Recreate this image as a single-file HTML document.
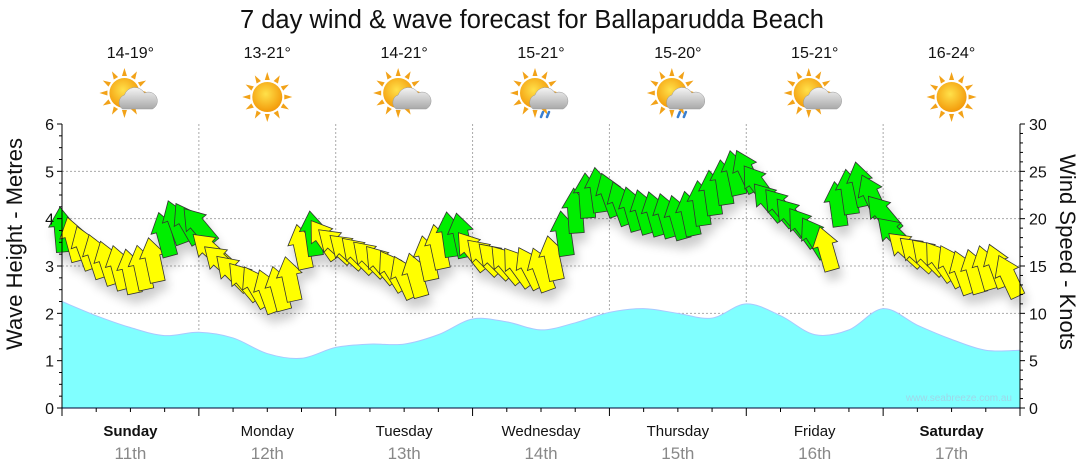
<!DOCTYPE html>
<html><head><meta charset="utf-8">
<style>
html,body{margin:0;padding:0;background:#fff;}
svg{display:block;font-family:"Liberation Sans",Arial,sans-serif;}
</style></head>
<body>
<svg id="chart" width="1080" height="475" viewBox="0 0 1080 475">
<defs>
<filter id="sh" x="-50%" y="-50%" width="200%" height="200%"><feGaussianBlur in="SourceAlpha" stdDeviation="5"/><feOffset dx="3" dy="9"/><feComponentTransfer><feFuncA type="linear" slope="0.2"/></feComponentTransfer><feMerge><feMergeNode/><feMergeNode in="SourceGraphic"/></feMerge></filter>
<radialGradient id="sun" cx="45%" cy="40%" r="60%"><stop offset="0" stop-color="#ffe14a"/><stop offset="1" stop-color="#f39a0a"/></radialGradient>
<linearGradient id="cloud" x1="0" y1="0" x2="0" y2="1"><stop offset="0" stop-color="#f4f4f4"/><stop offset="1" stop-color="#a9a9a9"/></linearGradient>
</defs>
<text x="532" y="28" text-anchor="middle" font-size="25.5" fill="#111">7 day wind &amp; wave forecast for Ballaparudda Beach</text>
<g id="grid"></g>
<g id="wave"></g>
<g id="wind" filter="url(#sh)"></g>
<g id="axes"></g>
<g id="wx"></g>
<text x="1012" y="401" text-anchor="end" font-size="10" fill="#9fd7e8">www.seabreeze.com.au</text>
<text transform="translate(22,244) rotate(-90)" text-anchor="middle" font-size="22" fill="#111">Wave Height - Metres</text>
<text transform="translate(1060,252) rotate(90)" text-anchor="middle" font-size="22" fill="#111">Wind Speed - Knots</text>
</svg>
<script>
const days = ["Sunday","Monday","Tuesday","Wednesday","Thursday","Friday","Saturday"];
const dates = ["11th","12th","13th","14th","15th","16th","17th"];
const temps = ["14-19°","13-21°","14-21°","15-21°","15-20°","15-21°","16-24°"];
const icons = ["cloudsun","sun","cloudsun","rain","rain","cloudsun","sun"];
const leftTicks = [0,1,2,3,4,5,6];
const rightTicks = [0,5,10,15,20,25,30];
// wave height, metres, every 6 hours
const waveHeights = [2.25,1.95,1.7,1.53,1.6,1.48,1.15,1.05,1.28,1.35,1.35,1.55,1.88,1.82,1.65,1.8,2.02,2.1,2.0,1.9,2.2,1.95,1.55,1.65,2.1,1.75,1.45,1.22,1.22];
// wind speed, knots, every 2 hours
const windSpeeds = [18.8,17.8,16.9,16.0,15.3,14.8,14.4,14.8,15.6,18.3,19.6,19.5,
19.2,16.7,15.4,14.3,13.4,12.8,12.3,12.6,13.6,17.0,18.4,17.8,
17.2,16.6,16.2,15.8,15.2,14.5,13.8,14.0,15.8,17.0,18.3,18.2,
16.6,16.0,15.6,15.2,14.9,14.8,14.6,15.8,18.4,20.8,22.4,23.0,
22.5,21.6,21.0,20.7,20.5,20.3,20.1,20.5,21.6,22.7,23.8,24.8,
25.0,23.6,21.8,21.2,20.2,19.1,18.0,16.8,21.5,22.8,23.6,22.4,
20.5,18.3,16.8,16.3,16.0,15.5,15.0,14.3,14.4,14.8,15.0,13.9];
// arrow heading, degrees from up
const windDirs = [-5,-15,-20,-18,-18,-15,-12,-12,-12,-15,-20,-30,
-40,-48,-48,-45,-40,-30,-20,-15,-12,-12,-8,-35,
-48,-48,-45,-45,-40,-32,-25,-16,-12,-12,-8,-12,
-38,-45,-45,-40,-36,-28,-20,-12,-8,-4,-4,-8,
-20,-20,-16,-16,-16,-16,-16,-12,-8,-8,-8,-12,
-25,-36,-40,-40,-40,-36,-32,-16,-8,-8,-12,-25,
-40,-45,-48,-48,-45,-36,-28,-20,-16,-16,-20,-25];

const NS="http://www.w3.org/2000/svg";
const X0=62,X1=1020,Y0=408,Y1=124;
const dayW=(X1-X0)/7;
const xH=h=>X0+h/168*(X1-X0);
const yM=m=>Y0-m/6*(Y0-Y1);
const yK=k=>Y0-k/30*(Y0-Y1);
function el(tag,attrs,parent){const e=document.createElementNS(NS,tag);for(const k in attrs)e.setAttribute(k,attrs[k]);parent.appendChild(e);return e;}
const grid=document.getElementById('grid'),axes=document.getElementById('axes'),wave=document.getElementById('wave'),wind=document.getElementById('wind'),wx=document.getElementById('wx');

leftTicks.forEach(t=>{if(t>0&&t<6){const l=el('line',{x1:X0,x2:X1,y1:yM(t),y2:yM(t),stroke:'#aaa','stroke-dasharray':'2,2'},grid);

}});
for(let d=1;d<7;d++){const l=el('line',{x1:X0+d*dayW,x2:X0+d*dayW,y1:Y1,y2:Y0,stroke:'#aaa','stroke-dasharray':'2,2'},grid);

}

const pts=waveHeights.map((v,i)=>[xH(i*6),yM(v)]);
let d=`M${pts[0][0]},${Y0} L${pts[0][0]},${pts[0][1]}`;
for(let i=0;i<pts.length-1;i++){const p0=pts[Math.max(0,i-1)],p1=pts[i],p2=pts[i+1],p3=pts[Math.min(pts.length-1,i+2)];
d+=` C${p1[0]+(p2[0]-p0[0])/6},${p1[1]+(p2[1]-p0[1])/6} ${p2[0]-(p3[0]-p1[0])/6},${p2[1]-(p3[1]-p1[1])/6} ${p2[0]},${p2[1]}`;}
d+=` L${pts[pts.length-1][0]},${Y0} Z`;
const wa=el('path',{d:d,fill:'#80ffff',stroke:'#a8c8ff','stroke-width':1},wave);



const arrowPts="0,-23 13,-4 7.5,-4 7.5,22 -7.5,22 -7.5,-4 -13,-4";
windSpeeds.forEach((k,i)=>{const x=xH(i*2),y=yK(k);
const a=el('polygon',{points:arrowPts,transform:`translate(${x},${y}) rotate(${windDirs[i]})`,fill:k>=18?'#00ee00':'#ffff00',stroke:'#333','stroke-width':0.8},wind);

});

el('line',{x1:X0,x2:X0,y1:Y1,y2:Y0,stroke:'#000'},axes);
el('line',{x1:X1,x2:X1,y1:Y1,y2:Y0,stroke:'#000'},axes);
el('line',{x1:X0,x2:X1,y1:Y0,y2:Y0,stroke:'#003'},axes);
for(let m=0;m<=24;m++){const y=Y0-m/24*(Y0-Y1);el('line',{x1:X0-(m%4==0?5:3),x2:X0,y1:y,y2:y,stroke:'#000'},axes);}
for(let k=0;k<=30;k++){const y=yK(k);el('line',{x1:X1,x2:X1+(k%5==0?5:3),y1:y,y2:y,stroke:'#000'},axes);}
leftTicks.forEach(t=>{const tx=el('text',{x:X0-8,y:yM(t)+6,'text-anchor':'end','font-size':16,fill:'#111'},axes);tx.textContent=t;

});
rightTicks.forEach(t=>{const tx=el('text',{x:X1+9,y:yK(t)+6,'font-size':16,fill:'#111'},axes);tx.textContent=t;

});
for(let q=0;q<=28;q++){const x=X0+q*dayW/4;el('line',{x1:x,x2:x,y1:Y0,y2:Y0+(q%4==0?8:4),stroke:'#000'},axes);}
days.forEach((n,i)=>{const cx=X0+(i+0.5)*dayW;const bold=(i==0||i==6);
const t=el('text',{x:cx,y:436,'text-anchor':'middle','font-size':15,'font-weight':bold?'bold':'normal',fill:'#111'},axes);t.textContent=n;


const t2=el('text',{x:cx,y:459,'text-anchor':'middle','font-size':17,fill:'#888'},axes);t2.textContent=dates[i];


const t3=el('text',{x:cx,y:58,'text-anchor':'middle','font-size':16,fill:'#111'},wx);t3.textContent=temps[i];


const g=el('g',{transform:`translate(${cx},97)`},wx);


const sx=icons[i]=='sun'?0:-6,sy=icons[i]=='sun'?0:-4;
for(let r=0;r<12;r++){el('polygon',{points:"-2.5,-17 0,-25 2.5,-17",fill:'#f2a218',transform:`translate(${sx},${sy}) rotate(${r*30})`},g);}
el('circle',{cx:sx,cy:sy,r:15,fill:'url(#sun)'},g);
if(icons[i]!='sun'){el('path',{d:"M-8,12 a8,8 0 0 1 2,-14 a11,11 0 0 1 20,-2 a8,8 0 0 1 8,16 Z",fill:'url(#cloud)',stroke:'#999','stroke-width':0.5},g);}
if(icons[i]=='rain'){el('path',{d:"M2,15 l-2,5 M8,15 l-2,5",stroke:'#3a7fd0','stroke-width':2.5,'stroke-linecap':'round'},g);}
});
</script>
</body></html>
